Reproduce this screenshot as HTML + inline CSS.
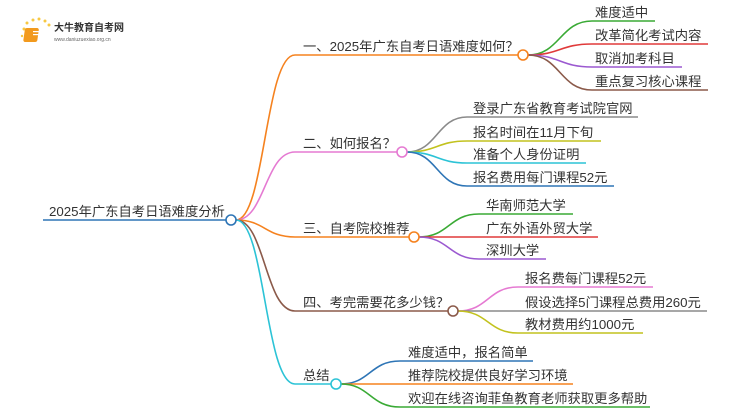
<!DOCTYPE html>
<html><head><meta charset="utf-8"><style>
html,body{margin:0;padding:0;background:#fff;}
svg{display:block;}
text{font-family:"Liberation Sans","Noto Sans CJK SC",sans-serif;fill:#333;font-size:13.3px;}
</style></head><body>
<svg width="750" height="410" viewBox="0 0 750 410" xmlns="http://www.w3.org/2000/svg">
<!-- logo -->
<g>
<circle cx="24" cy="29" r="1.5" fill="#f7c843"/><circle cx="27" cy="23" r="1.5" fill="#f7c843"/><circle cx="33" cy="20" r="1.5" fill="#f7c843"/><circle cx="39" cy="19" r="1.5" fill="#f7c843"/><circle cx="45" cy="21" r="1.5" fill="#f7c843"/><circle cx="49" cy="25" r="1.5" fill="#f7c843"/><circle cx="22" cy="36" r="1.2" fill="#f7c843"/>
<rect x="29" y="28" width="14" height="14" rx="2" fill="#f29a1e" transform="skewX(-8)"/>
<rect x="33" y="31" width="8" height="1.2" fill="#fff"/><rect x="33" y="34" width="8" height="1.2" fill="#fff"/>
<text x="54" y="31" style="font-size:10px;font-weight:bold;fill:#333">大牛教育自考网</text>
<text x="54" y="41" style="font-size:5px;fill:#666">www.daniuzuexiao.org.cn</text>
</g>
<g fill="none" stroke-width="1.6">
<!-- root -->
<path d="M43 220 H226" stroke="#2e75b6"/>
<!-- main branches -->
<path d="M236 220 C265 220 265 55 295 55 H518" stroke="#f5821f"/>
<path d="M236 220 C265 220 265 152 295 152 H397" stroke="#e57ad2"/>
<path d="M236 220 C265 220 265 237 295 237 H409" stroke="#f5821f"/>
<path d="M236 220 C265 220 265 311 295 311 H448" stroke="#8b5a4a"/>
<path d="M236 220 C265 220 265 384 295 384 H331" stroke="#2cc3d6"/>
<!-- b1 leaves -->
<path d="M528 55 C560 55 560 21 592 21 H655" stroke="#3aaa35"/>
<path d="M528 55 C560 55 560 44 592 44 H708" stroke="#e03a3a"/>
<path d="M528 55 C560 55 560 67 592 67 H682" stroke="#9b59d0"/>
<path d="M528 55 C560 55 560 90 592 90 H708" stroke="#8b5a4a"/>
<!-- b2 -->
<path d="M407 152 C437 152 437 117 467 117 H638" stroke="#8a8a8a"/>
<path d="M407 152 C437 152 437 141 467 141 H601" stroke="#c2c21e"/>
<path d="M407 152 C437 152 437 163 467 163 H586" stroke="#2cc3d6"/>
<path d="M407 152 C437 152 437 186 467 186 H614" stroke="#2e75b6"/>
<!-- b3 -->
<path d="M419 237 C449 237 449 214 479 214 H573" stroke="#3aaa35"/>
<path d="M419 237 H598" stroke="#e03a3a"/>
<path d="M419 237 C449 237 449 259 479 259 H546" stroke="#9b59d0"/>
<!-- b4 -->
<path d="M458 311 C488 311 488 287 518 287 H653" stroke="#e57ad2"/>
<path d="M458 311 H707" stroke="#8a8a8a"/>
<path d="M458 311 C488 311 488 333 518 333 H643" stroke="#c2c21e"/>
<!-- b5 -->
<path d="M341 384 C370 384 370 361 400 361 H533" stroke="#2e75b6"/>
<path d="M341 384 H573" stroke="#f5821f"/>
<path d="M341 384 C370 384 370 407 400 407 H650" stroke="#3aaa35"/>
</g>
<g fill="#fff" stroke-width="1.6">
<circle cx="231" cy="220" r="5" stroke="#2e75b6"/>
<circle cx="523" cy="55" r="5" stroke="#f5821f"/>
<circle cx="402" cy="152" r="5" stroke="#e57ad2"/>
<circle cx="414" cy="237" r="5" stroke="#f5821f"/>
<circle cx="453" cy="311" r="5" stroke="#8b5a4a"/>
<circle cx="336" cy="384" r="5" stroke="#2cc3d6"/>
</g>
<text x="49" y="216">2025年广东自考日语难度分析</text>
<text x="303" y="51">一、2025年广东自考日语难度如何？</text>
<text x="303" y="148">二、如何报名？</text>
<text x="303" y="233">三、自考院校推荐</text>
<text x="303" y="307">四、考完需要花多少钱？</text>
<text x="303" y="380">总结</text>
<text x="595" y="17">难度适中</text>
<text x="595" y="40">改革简化考试内容</text>
<text x="595" y="63">取消加考科目</text>
<text x="595" y="86">重点复习核心课程</text>
<text x="473" y="113">登录广东省教育考试院官网</text>
<text x="473" y="137">报名时间在11月下旬</text>
<text x="473" y="159">准备个人身份证明</text>
<text x="473" y="182">报名费用每门课程52元</text>
<text x="486" y="210">华南师范大学</text>
<text x="486" y="233">广东外语外贸大学</text>
<text x="486" y="255">深圳大学</text>
<text x="525" y="283">报名费每门课程52元</text>
<text x="525" y="307">假设选择5门课程总费用260元</text>
<text x="525" y="329">教材费用约1000元</text>
<text x="408" y="357">难度适中，报名简单</text>
<text x="408" y="380">推荐院校提供良好学习环境</text>
<text x="408" y="403">欢迎在线咨询菲鱼教育老师获取更多帮助</text>
</svg>
</body></html>
